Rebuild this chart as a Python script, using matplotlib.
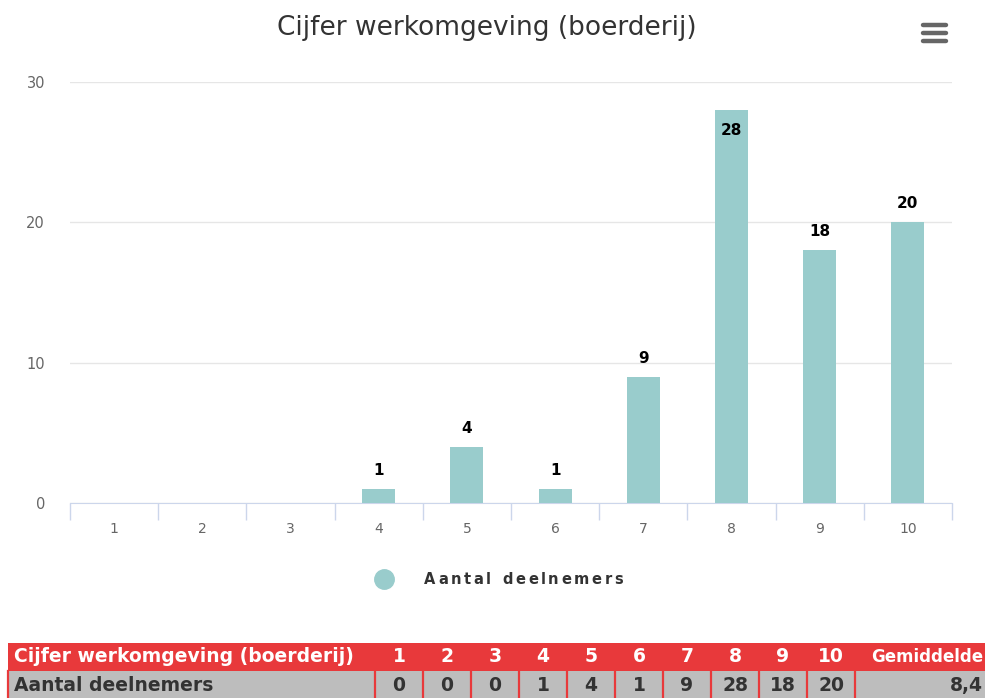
import matplotlib
matplotlib.use("Agg")
import matplotlib.pyplot as plt
from matplotlib.patches import Rectangle
from matplotlib.lines import Line2D

title = "Cijfer werkomgeving (boerderij)"
categories = ["1", "2", "3", "4", "5", "6", "7", "8", "9", "10"]
values = [0, 0, 0, 1, 4, 1, 9, 28, 18, 20]
series_name = "Aantal deelnemers"
yticks = [0, 10, 20, 30]
average_label = "Gemiddelde"
average_value = "8,4"

BAR = "#99cccc"
W, H = 985, 698
fig = plt.figure(figsize=(W / 100, H / 100), dpi=100)
fig.patch.set_facecolor("white")
renderer = fig.canvas.get_renderer()

def fx(px):
    return px / W

def fy(py):
    return 1 - py / H

def tracked_text(x0px, ypx, s, track_px, **kw):
    """Draw text char by char with extra letter spacing (pixel units)."""
    xpos = x0px
    for ch in s:
        t = fig.text(fx(xpos), fy(ypx), ch, ha="left", va="center", **kw)
        if ch == " ":
            t2 = fig.text(0, 0, "n", **{k: v for k, v in kw.items() if k != "color"})
            w = t2.get_window_extent(renderer).width * 0.6
            t2.remove()
        else:
            w = t.get_window_extent(renderer).width
        xpos += w + track_px
    return xpos

ax = fig.add_axes([fx(70), fy(503), fx(952) - fx(70), fy(82) - fy(503)])
x = list(range(len(categories)))
ax.bar(x, values, width=0.375, color=BAR, zorder=3)
ax.set_xlim(-0.5, len(categories) - 0.5)
ax.set_ylim(0, 30)
ax.set_yticks(yticks)
ax.set_yticklabels([str(t) for t in yticks], color="#666666", fontsize=10.5)
ax.tick_params(axis="y", length=0, pad=18)
ax.set_xticks(x)
ax.set_xticklabels(categories, color="#666666", fontsize=10)
ax.tick_params(axis="x", length=0, pad=14)
ax.set_xticks([i - 0.5 for i in range(len(categories) + 1)], minor=True)
ax.tick_params(axis="x", which="minor", length=12, color="#ccd6eb", width=1)
ax.grid(axis="y", color="#e6e6e6", linewidth=1, zorder=0)
for s in ["top", "right", "left"]:
    ax.spines[s].set_visible(False)
ax.spines["bottom"].set_color("#ccd6eb")
ax.set_facecolor("white")

for xi, v in zip(x, values):
    if v <= 0:
        continue
    if v + 2.5 > 30:
        ax.annotate(str(v), (xi, v), xytext=(0, -9), textcoords="offset points",
                    ha="center", va="top", fontsize=11, fontweight="bold", color="black", zorder=5)
    else:
        ax.annotate(str(v), (xi, v), xytext=(0, 8), textcoords="offset points",
                    ha="center", va="bottom", fontsize=11, fontweight="bold", color="black", zorder=5)

fig.text(fx(487), fy(28), title, ha="center", va="center", fontsize=19, color="#333333")

# hamburger menu icon
for yy in [25, 33, 41]:
    fig.add_artist(Line2D([fx(923), fx(946)], [fy(yy), fy(yy)], transform=fig.transFigure,
                          color="#666666", lw=3.2, solid_capstyle="round"))

# legend
fig.add_artist(Line2D([fx(384)], [fy(579)], marker="o", markersize=14, color=BAR,
                      transform=fig.transFigure, linestyle="none"))
tracked_text(424, 580, series_name, 2.6, fontsize=10.5, fontweight="bold", color="#333333")

# data table
RED = "#e8393b"
GREY = "#bdbdbd"
top1, bot1, bot2 = 643, 671, 698
col_edges = [8, 375] + [375 + 48 * (i + 1) for i in range(len(categories))] + [985]

def rect(x0, y0, x1, y1, fc):
    fig.add_artist(Rectangle((fx(x0), fy(y1)), fx(x1) - fx(x0), fy(y0) - fy(y1),
                             transform=fig.transFigure, facecolor=fc, edgecolor="none", lw=0))

rect(8, top1, 985, bot1, RED)
rect(8, bot1, 985, bot2 + 2, GREY)
for xe in col_edges[:-1]:
    fig.add_artist(Line2D([fx(xe), fx(xe)], [fy(bot1), fy(bot2 + 2)], transform=fig.transFigure,
                          color=RED, lw=1.6))

tfont = dict(fontsize=13.5, fontweight="bold", family="DejaVu Sans")
ymid1 = fy((top1 + bot1) / 2)
ymid2 = fy((bot1 + bot2) / 2 + 1)
fig.text(fx(14), ymid1, title, ha="left", va="center", color="white", **tfont)
fig.text(fx(14), ymid2, series_name, ha="left", va="center", color="#333333", **tfont)
for i, (c, v) in enumerate(zip(categories, values)):
    cx = (col_edges[i + 1] + col_edges[i + 2]) / 2
    fig.text(fx(cx), ymid1, c, ha="center", va="center", color="white", **tfont)
    fig.text(fx(cx), ymid2, str(v), ha="center", va="center", color="#333333", **tfont)
fig.text(fx(983), ymid1, average_label, ha="right", va="center", color="white",
         fontsize=12, fontweight="bold", family="DejaVu Sans")
fig.text(fx(983), ymid2, average_value, ha="right", va="center", color="#333333", **tfont)

fig.savefig("out.png", dpi=100, facecolor="white")
